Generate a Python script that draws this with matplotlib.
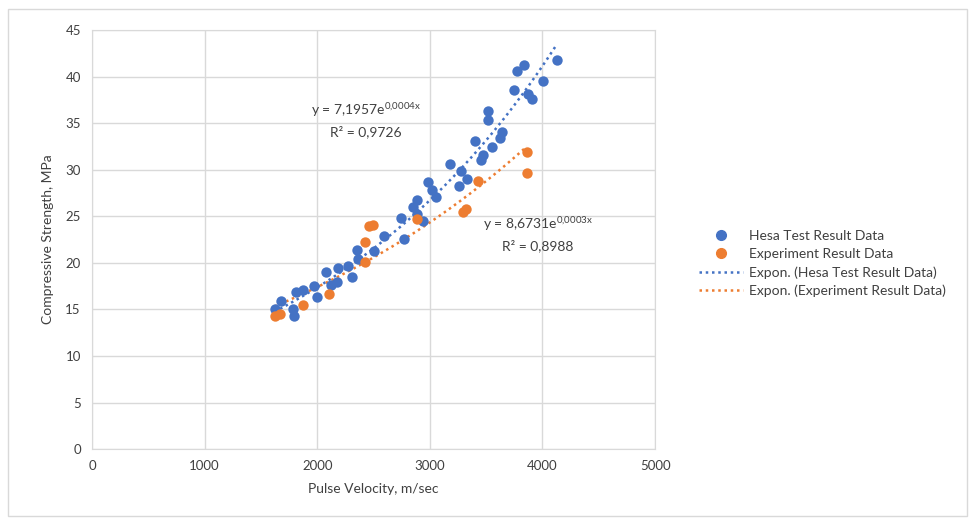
import numpy as np
import matplotlib
matplotlib.use("Agg")
import matplotlib.pyplot as plt
from matplotlib.patches import Rectangle
from matplotlib.lines import Line2D

plt.rcParams['font.family'] = ['Lato', 'DejaVu Sans']
plt.rcParams['mathtext.fontset'] = 'custom'
plt.rcParams['mathtext.rm'] = 'Lato'

# Hesa test results (pulse velocity m/sec, compressive strength MPa)
hesa_v = [1622, 1682, 1782, 1794, 1811, 1873, 1969, 1996, 2078, 2126, 2174, 2188,
          2274, 2313, 2349, 2366, 2502, 2592, 2770, 2746, 2852, 2888, 2882, 2941,
          2986, 3021, 3051, 3180, 3274, 3259, 3327, 3399, 3475, 3458, 3555, 3623,
          3644, 3516, 3516, 3748, 3778, 3837, 3873, 3906, 4003, 4125]
hesa_s = [15.0, 15.9, 15.0, 14.25, 16.9, 17.1, 17.5, 16.3, 19.0, 17.6, 17.9, 19.5,
          19.65, 18.5, 21.4, 20.4, 21.3, 22.9, 22.55, 24.8, 26.0, 26.8, 25.3, 24.5,
          28.7, 27.8, 27.1, 30.6, 29.9, 28.3, 29.0, 33.1, 31.6, 31.1, 32.5, 33.4,
          34.1, 36.3, 35.4, 38.6, 40.6, 41.25, 38.2, 37.6, 39.5, 41.85]

# Experiment results
exp_v = [1622, 1673, 1873, 2105, 2420, 2420, 2461, 2496, 2888, 3297, 3319, 3423, 3861, 3858]
exp_s = [14.25, 14.5, 15.5, 16.7, 20.1, 22.2, 23.95, 24.06, 24.7, 25.5, 25.8, 28.85, 31.9, 29.7]

blue = '#4472C4'
orange = '#ED7D31'
txt = '#404040'

fig = plt.figure(figsize=(9.71, 5.21), dpi=100)
fig.patches.append(Rectangle((0.008, 0.01), 0.988, 0.972, transform=fig.transFigure,
                             fill=False, edgecolor='#D9D9D9', linewidth=1))
ax = fig.add_axes([0.0947, 0.138, 0.58, 0.804])

ax.scatter(hesa_v, hesa_s, s=56, color=blue, zorder=3, linewidths=0)
ax.scatter(exp_v, exp_s, s=56, color=orange, zorder=3, linewidths=0)


def exp_fit(x, y):
    b, ln_a = np.polyfit(np.array(x, float), np.log(y), 1)
    return np.exp(ln_a), b


for xs, ys, c in [(hesa_v, hesa_s, blue), (exp_v, exp_s, orange)]:
    a, b = exp_fit(xs, ys)
    xx = np.linspace(min(xs), max(xs), 200)
    ax.plot(xx, a * np.exp(b * xx), linestyle=(0, (1, 1.5)), color=c, linewidth=1.8, zorder=2)

ax.set_xlim(0, 5000)
ax.set_ylim(0, 45)
ax.set_xticks(range(0, 5001, 1000))
ax.set_yticks(range(0, 46, 5))
ax.grid(True, color='#D9D9D9', linewidth=1)
ax.set_axisbelow(True)
for sp in ax.spines.values():
    sp.set_color('#D9D9D9')
ax.tick_params(length=0, labelsize=9.5, colors=txt, pad=8)
ax.set_xlabel('Pulse Velocity, m/sec', fontsize=10, color=txt, labelpad=8)
ax.set_ylabel('Compressive Strength, MPa', fontsize=10, color=txt, labelpad=8)

ax.text(2430, 35.9, r'y = 7,1957e$^{\mathregular{0{,}0004x}}$', fontsize=10, color=txt, ha='center')
ax.text(2430, 33.6, 'R² = 0,9726', fontsize=10, color=txt, ha='center')
ax.text(3960, 23.6, r'y = 8,6731e$^{\mathregular{0{,}0003x}}$', fontsize=10, color=txt, ha='center')
ax.text(3960, 21.4, 'R² = 0,8988', fontsize=10, color=txt, ha='center')

handles = [
    Line2D([], [], marker='o', linestyle='none', color=blue, markersize=7),
    Line2D([], [], marker='o', linestyle='none', color=orange, markersize=7),
    Line2D([], [], linestyle=(0, (1, 1.5)), color=blue, linewidth=1.8),
    Line2D([], [], linestyle=(0, (1, 1.5)), color=orange, linewidth=1.8),
]
labels = ['Hesa Test Result Data', 'Experiment Result Data',
          'Expon. (Hesa Test Result Data)', 'Expon. (Experiment Result Data)']
fig.legend(handles, labels, loc='center left', bbox_to_anchor=(0.707, 0.494),
           frameon=False, fontsize=10, labelcolor=txt, handlelength=3.2,
           labelspacing=0.42, handletextpad=0.4)

fig.savefig('out.png', dpi=100)
